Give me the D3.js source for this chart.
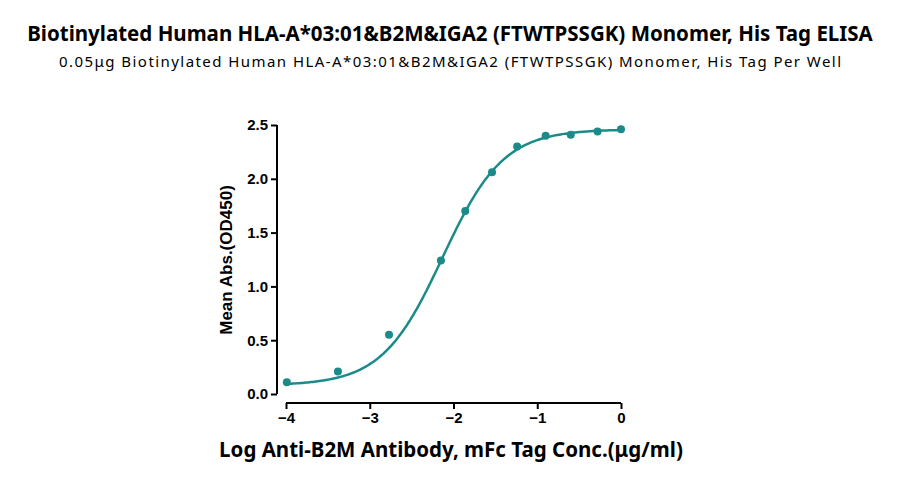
<!DOCTYPE html>
<html><head><meta charset="utf-8">
<script src="https://cdn.jsdelivr.net/npm/d3@7"></script>
<style>body{margin:0;background:#fff;font-family:"Noto Sans",sans-serif}</style>
</head><body><div id="chart"></div>
<script>
// measured points
const logConc = [-3.99, -3.38, -2.77, -2.15, -1.86, -1.54, -1.24, -0.90, -0.60, -0.28, 0];
const meanAbs = [0.11, 0.21, 0.55, 1.24, 1.70, 2.06, 2.30, 2.40, 2.41, 2.44, 2.46];
const xTicks = [-4, -3, -2, -1, 0];
const yTicks = [0, 0.5, 1, 1.5, 2, 2.5];
// 4PL fit parameters (estimated)
const fit = {bottom: 0.08, top: 2.46, ec50: -2.13, hill: 1.2};

const W = 900, H = 482, color = "#1b8b8a";
const svg = d3.select("#chart").append("svg").attr("width", W).attr("height", H);

const x = d3.scaleLinear().domain([-4, 0]).range([286, 621]);
const y = d3.scaleLinear().domain([0, 2.5]).range([394, 125]);

svg.append("text").attr("x", W/2).attr("y", 41).attr("text-anchor", "middle")
  .attr("font-size", 20.5).attr("font-weight", "bold")
  .text("Biotinylated Human HLA-A*03:01&B2M&IGA2 (FTWTPSSGK) Monomer, His Tag ELISA");
svg.append("text").attr("x", W/2).attr("y", 67).attr("text-anchor", "middle")
  .attr("font-size", 15).attr("textLength", 782).attr("lengthAdjust", "spacing")
  .text("0.05μg Biotinylated Human HLA-A*03:01&B2M&IGA2 (FTWTPSSGK) Monomer, His Tag Per Well");

const xAxis = svg.append("g").attr("transform", "translate(0,403)")
  .call(d3.axisBottom(x).tickValues(xTicks).tickFormat(d3.format("d")).tickSize(6));
const yAxis = svg.append("g").attr("transform", "translate(277,0)")
  .call(d3.axisLeft(y).tickValues(yTicks).tickFormat(d3.format(".1f")).tickSize(6));
[xAxis, yAxis].forEach(g => {
  g.selectAll("path,line").attr("stroke", "#000").attr("stroke-width", 2);
  g.selectAll("text").attr("font-size", 15).attr("font-weight", "bold").attr("fill", "#000")
   .attr("font-family", "Arial, 'Liberation Sans', sans-serif");
});
xAxis.select(".domain").attr("d", `M${x(-4)},0H${x(0)}`);
yAxis.select(".domain").attr("d", `M0,${y(0)}V${y(2.5)}`);

svg.append("text").attr("x", 451).attr("y", 457).attr("text-anchor", "middle")
  .attr("font-size", 20.5).attr("font-weight", "bold")
  .text("Log Anti-B2M Antibody, mFc Tag Conc.(μg/ml)");
svg.append("text").attr("transform", "translate(232,260) rotate(-90)").attr("text-anchor", "middle")
  .attr("font-size", 17).attr("font-weight", "bold").attr("font-family", "Arial, 'Liberation Sans', sans-serif")
  .text("Mean Abs.(OD450)");

const f = v => fit.bottom + (fit.top - fit.bottom) / (1 + Math.pow(10, (fit.ec50 - v) * fit.hill));
const xs = d3.range(-4, 0.0001, 0.02);
svg.append("path").datum(xs).attr("fill", "none").attr("stroke", color).attr("stroke-width", 2.5)
  .attr("d", d3.line().x(d => x(d)).y(d => y(f(d))));

svg.selectAll("circle.pt").data(logConc).join("circle").attr("class", "pt")
  .attr("cx", d => x(d)).attr("cy", (d, i) => y(meanAbs[i])).attr("r", 4).attr("fill", color);
</script></body></html>
